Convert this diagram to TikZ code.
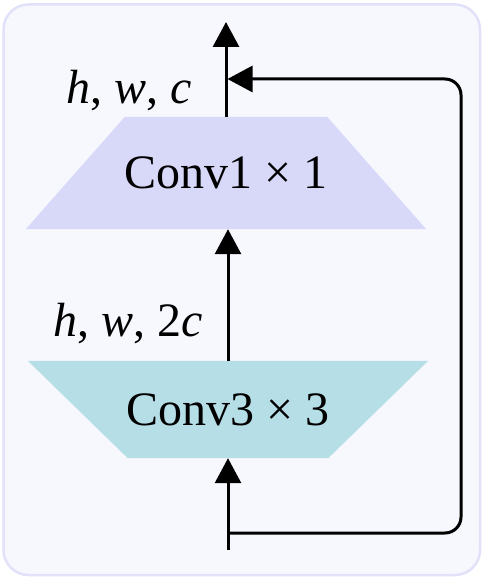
\documentclass[tikz,border=0pt]{standalone}
\usepackage{fontspec}
\setmainfont{Liberation Serif}
\usetikzlibrary{arrows.meta,backgrounds,calc}
\definecolor{bgc}{HTML}{F7F8FE}
\definecolor{bdc}{HTML}{E1E1FA}
\definecolor{upc}{HTML}{D8D8F9}
\definecolor{loc}{HTML}{B6DEE6}
\begin{document}
\begin{tikzpicture}[x=1pt,y=-1pt,
  conn/.style={line width=3pt},
  arr/.style={conn,-{Triangle[length=25pt,width=26pt]}},
  box/.style={minimum width=400pt, inner sep=0pt, font=\fontsize{48}{58}\selectfont},
  lbl/.style={inner sep=0pt, font=\fontsize{48}{58}\selectfont}]
\useasboundingbox (0,0) rectangle (485,580);
\node[box, minimum height=112pt] (c1) at (226,173) {Conv1 × 1};
\node[box, minimum height=97pt] (c3) at (228,409.5) {Conv3 × 3};
\begin{pgfonlayer}{background}
\draw[fill=bgc, draw=bdc, line width=2.5pt, rounded corners=25pt] (3.5,4.5) rectangle (480,575);
\fill[upc] (c1.south west) -- (c1.south east) -- ($(c1.north east)+(-99,0)$) -- ($(c1.north west)+(99,0)$) -- cycle;
\fill[loc] (c3.north west) -- (c3.north east) -- ($(c3.south east)+(-100,0)$) -- ($(c3.south west)+(100,0)$) -- cycle;
\end{pgfonlayer}
\node[lbl, anchor=base east] (l1) at (192,104) {\textit{h}, \textit{w}, \textit{c}};
\node[lbl, anchor=base east] (l2) at (203,336) {\textit{h}, \textit{w}, 2\textit{c}};
\coordinate (out) at (226,22);
\coordinate (in) at (228,550);
\coordinate (br) at (228,533);
\coordinate (r1) at (461,533);
\coordinate (r2) at (461,79);
\coordinate (j) at (227.5,79);
\draw[arr] (c1.north) -- (out);
\draw[arr] (c3.north) -- (c3.north |- c1.south);
\draw[arr] (in) -- (c3.south);
\draw[arr, rounded corners=16pt] (br) -- (r1) -- (r2) -- (j);
\end{tikzpicture}
\end{document}
